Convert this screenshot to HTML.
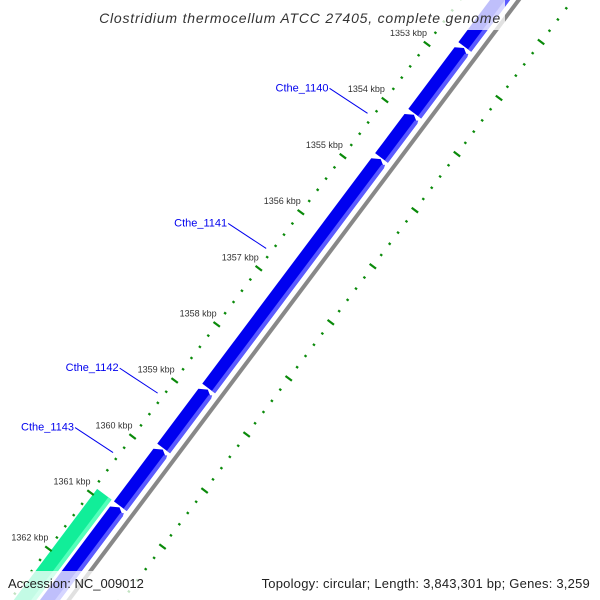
<!DOCTYPE html>
<html><head><meta charset="utf-8"><style>
html,body{margin:0;padding:0;background:#fff;overflow:hidden;}
svg{display:block;font-family:"Liberation Sans",sans-serif;}
</style></head><body>
<svg id="map" width="600" height="600" viewBox="0 0 600 600">
<rect width="600" height="600" fill="#fff"/>
<g id="track" transform="translate(427,44) rotate(126.87)"></g>
<g id="labels"></g>
<rect x="95" y="0" width="410" height="30" fill="#fff" fill-opacity="0.75"/>
<text x="300" y="23" text-anchor="middle" font-size="14" font-style="italic" letter-spacing="0.8" fill="#333">Clostridium thermocellum ATCC 27405, complete genome</text>
<rect x="0" y="571" width="600" height="29" fill="#fff" fill-opacity="0.75"/>
<text x="8" y="588" font-size="13" fill="#222">Accession: NC_009012</text>
<text x="590" y="588" text-anchor="end" font-size="13" letter-spacing="0.22" fill="#222">Topology: circular; Length: 3,843,301 bp; Genes: 3,259</text>
</svg>
<script>
const tickKbp = [1352,1353,1354,1355,1356,1357,1358,1359,1360,1361,1362,1363];
const labeledKbp = [1353,1354,1355,1356,1357,1358,1359,1360,1361,1362];
const geneStartsBp = [1351500,1352730,1353920,1354710,1358820,1359890,1360920];
const geneEndsBp   = [1352710,1353900,1354690,1358800,1359870,1360900,1364000];
const greenStartBp = [1360900];
const greenEndBp   = [1364500];
const geneNames = ["Cthe_1140","Cthe_1141","Cthe_1142","Cthe_1143"];
const geneLabelBp = [1354300,1356710,1359290,1360350];

const NS="http://www.w3.org/2000/svg";
const ORIGIN=1353000, PX=0.0701;
const D=[-0.6,0.8], N=[0.8,0.6], O=[427,44];
function s(bp){return (bp-ORIGIN)*PX;}
function toScreen(bp,perp){const a=s(bp);return [O[0]+a*D[0]+perp*N[0],O[1]+a*D[1]+perp*N[1]];}
const g=document.getElementById('track');
function mk(tag,attrs,parent){const e=document.createElementNS(NS,tag);for(const k in attrs)e.setAttribute(k,attrs[k]);(parent||g).appendChild(e);return e;}
let sh=mk('rect',{x:s(1351500),y:-49,width:s(1363300)-s(1351500),height:4,fill:'#888'});


for(let i=0;i<greenStartBp.length;i++){
  const a=s(greenStartBp[i]),b=s(greenEndBp[i]);
  const r=mk('rect',{x:a,y:-21,width:b-a,height:18,fill:'#11ee99'});
  
  
  const h=mk('rect',{x:a,y:-21,width:b-a,height:4,fill:'#55ffbb'});
  
  
}
for(let i=0;i<geneStartsBp.length;i++){
  const a=s(geneStartsBp[i]),b=s(geneEndsBp[i]);
  const top=-40,bot=-24,mid=-32;
  const p=mk('polygon',{points:`${a},${mid} ${a+5},${top} ${b},${top} ${b},${bot} ${a+5},${bot}`,fill:'#0000f0'});
  
  
  const h=mk('polygon',{points:`${a+2},${top+1} ${a+5},${top} ${b},${top} ${b},${top+4} ${a+4},${top+4}`,fill:'#5a5aff'});
  
  
}
for(let k=1351;k<=1363.3;k+=0.2){
  const bp=Math.round(k*1000);
  const major=Math.abs(k-Math.round(k))<0.01 && tickKbp.includes(Math.round(k));
  const len=major?8:2.5, w=2.2;
  [0,90].forEach((perp,j)=>{
    const t=mk('rect',{x:s(bp)-w/2,y:-perp-len/2,width:w,height:len,fill:'#0a8a0a'});
    
    
  });
}
const lab=document.getElementById('labels');
labeledKbp.forEach(k=>{
  const p=toScreen(k*1000,0);
  const t=mk('text',{x:p[0],y:p[1]-8,'text-anchor':'end','font-size':'9',fill:'#333'},lab);
  t.textContent=k+' kbp';
  
  
});
geneNames.forEach((nm,i)=>{
  const p=toScreen(geneLabelBp[i],-6);
  const q=[p[0]-38,p[1]-25];
  const l=mk('line',{x1:p[0],y1:p[1],x2:q[0],y2:q[1],stroke:'#0000ee','stroke-width':1},lab);
  
  
  const t=mk('text',{x:q[0]-1,y:q[1]+3,'text-anchor':'end','font-size':'11',fill:'#0000ee'},lab);
  t.textContent=nm;
  
  
});
</script>
</body></html>
